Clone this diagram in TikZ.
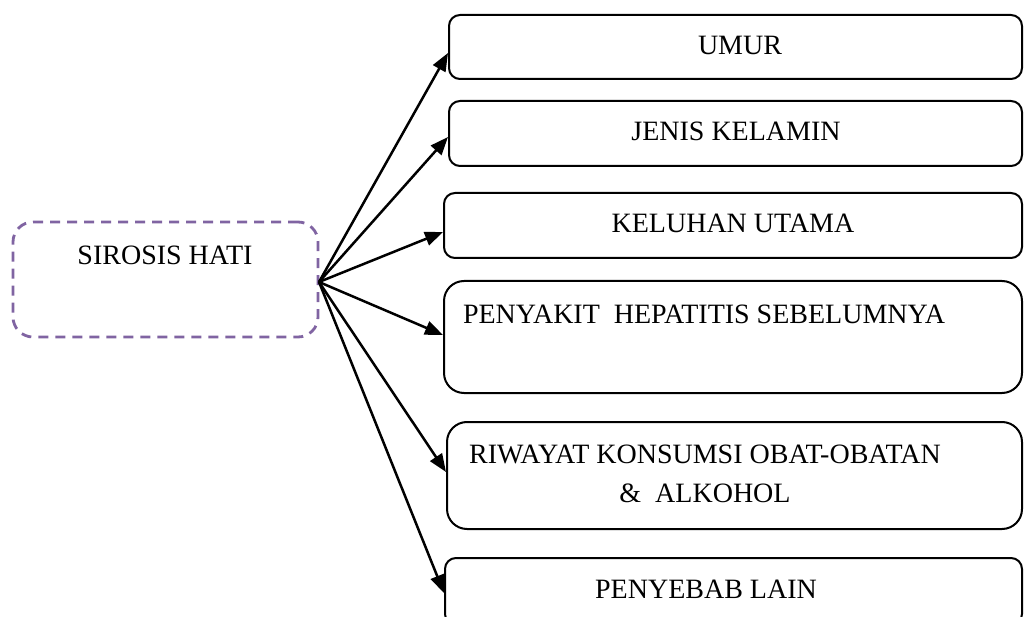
\documentclass[tikz,border=0pt]{standalone}
\usepackage{fontspec}
\setmainfont{Liberation Serif}
\usetikzlibrary{arrows.meta,positioning,calc}
\definecolor{sirpurple}{HTML}{8064A2}

\begin{document}
\begin{tikzpicture}[x=1pt,y=-1pt,
  box/.style={draw,line width=2pt,rounded corners=11pt,inner sep=0pt},
  root/.style={draw=sirpurple,line width=2.8pt,dash pattern=on 10pt off 7pt,rounded corners=20pt,inner sep=0pt},
  lbl/.style={font=\fontsize{28}{39}\selectfont,inner sep=0pt,anchor=base},
  >={Triangle[length=18pt,width=14pt]}]
\useasboundingbox (0,0) rectangle (1025,617);
% left box
\node[root,minimum width=305pt,minimum height=115pt] (sirosis) at (165.5,279.5) {};
\node[lbl] (sirosis-t) at (165,265) {SIROSIS HATI};
\coordinate (hub) at (319,282);
% right boxes
\node[box,minimum width=573pt,minimum height=64pt] (umur) at (735.5,47) {};
\node[box,minimum width=573pt,minimum height=65pt] (jenis) at (735.5,133.5) {};
\node[box,minimum width=578pt,minimum height=65pt] (keluhan) at (733,225.5) {};
\node[box,rounded corners=20pt,minimum width=578pt,minimum height=112pt] (penyakit) at (733,337) {};
\node[box,rounded corners=20pt,minimum width=575pt,minimum height=107pt] (riwayat) at (734.5,475.5) {};
\node[box,minimum width=577pt,minimum height=67pt] (penyebab) at (733.5,591.5) {};
% texts
\node[lbl] (umur-t) at (740,55) {UMUR};
\node[lbl] (jenis-t) at (736,141) {JENIS KELAMIN};
\node[lbl] (keluhan-t) at (733,233) {KELUHAN UTAMA};
\node[lbl] (penyakit-t) at (704,324) {PENYAKIT\ \ HEPATITIS SEBELUMNYA};
\node[lbl,align=center] (riwayat-t) at (705,502) {RIWAYAT KONSUMSI OBAT-OBATAN\\\&\ \ ALKOHOL};
\node[lbl] (penyebab-t) at (706,598) {PENYEBAB LAIN};
% arrows
\path[->,line width=2.5pt]
(hub) edge ([yshift=-6pt]umur.west)
(hub) edge ([yshift=-3.5pt]jenis.west)
(hub) edge ([yshift=-6.5pt]keluhan.west)
(hub) edge ([yshift=2pt]penyakit.west)
(hub) edge ([yshift=3.5pt]riwayat.west)
(hub) edge ([yshift=-1.5pt]penyebab.west)
;
\end{tikzpicture}
\end{document}
